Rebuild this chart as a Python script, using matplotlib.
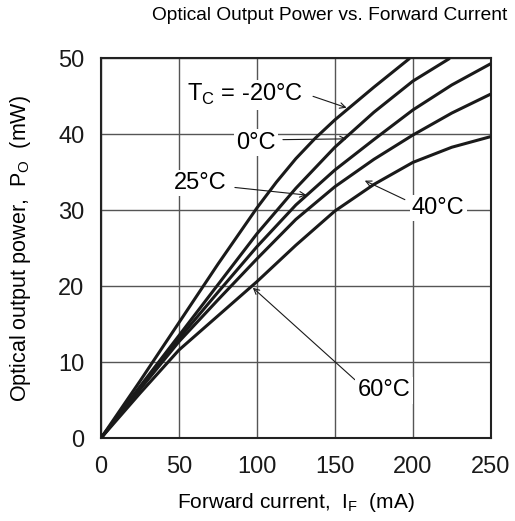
import matplotlib
matplotlib.use("Agg")
import matplotlib.pyplot as plt

plt.rcParams['font.family'] = ['Liberation Sans', 'DejaVu Sans']
plt.rcParams['mathtext.fontset'] = 'custom'
plt.rcParams['mathtext.rm'] = 'Liberation Sans'

# forward current (mA) and optical power (mW)
i_m20 = [0, 25, 50, 75, 100, 112.5, 125, 137.5, 150, 175, 198]
p_m20 = [0, 7.5, 15.2, 22.9, 30.3, 33.7, 36.8, 39.5, 41.9, 46.2, 50.0]

i_0 = [0, 25, 50, 75, 100, 125, 150, 175, 200, 223.7]
p_0 = [0, 6.8, 13.5, 20.2, 26.9, 32.9, 38.3, 42.9, 47.0, 50.0]

i_25 = [0, 25, 50, 75, 100, 125, 150, 175, 200, 225, 250]
p_25 = [0, 6.6, 13.1, 19.2, 25.2, 30.7, 35.3, 39.3, 43.2, 46.5, 49.3]

i_40 = [0, 25, 50, 75, 100, 125, 150, 175, 200, 225, 250]
p_40 = [0, 6.4, 12.7, 18.2, 23.6, 28.8, 33.1, 36.7, 39.9, 42.8, 45.3]

i_60 = [0, 25, 50, 75, 100, 125, 150, 175, 200, 225, 250]
p_60 = [0, 5.9, 11.6, 16.1, 20.6, 25.4, 29.9, 33.4, 36.3, 38.3, 39.7]

x_ticks = [0, 50, 100, 150, 200, 250]
y_ticks = [0, 10, 20, 30, 40, 50]

fig = plt.figure(figsize=(5.15, 5.21), dpi=100)
ax = fig.add_axes([0.196, 0.159, 0.757, 0.729])

for xs, ys in [(i_m20, p_m20), (i_0, p_0), (i_25, p_25), (i_40, p_40), (i_60, p_60)]:
    ax.plot(xs, ys, color='#1a1a1a', lw=2.2, zorder=3, solid_capstyle='butt')

ax.set_xlim(0, 250)
ax.set_ylim(0, 50)
ax.set_xticks(x_ticks)
ax.set_yticks(y_ticks)
ax.tick_params(length=0, labelsize=17, colors='#1a1a1a')
ax.tick_params(axis='y', pad=12)
ax.tick_params(axis='x', pad=13)
ax.grid(True, color='#555555', lw=1.0)
ax.set_axisbelow(True)
for s in ax.spines.values():
    s.set_linewidth(1.5)
    s.set_color('#222222')

ax.set_xlabel(r'Forward current,  I$_\mathregular{F}$  (mA)', fontsize=15, labelpad=9)
ax.set_ylabel(r'Optical output power,  P$_\mathregular{O}$  (mW)', fontsize=15.5, labelpad=18)
fig.text(0.64, 0.971, 'Optical Output Power vs. Forward Current', ha='center', va='center', fontsize=13.8)

arw = dict(arrowstyle='->', color='#1a1a1a', lw=0.8, shrinkA=0, shrinkB=0)
box = dict(boxstyle='square,pad=0.1', fc='white', ec='none')
notes = [
    (r'T$_\mathregular{C}$ = -20°C', (92.6, 45.2), (136, 45.0), (157.5, 43.5)),
    ('0°C', (99.4, 38.9), (116.7, 39.3), (157.5, 39.4)),
    ('25°C', (63.8, 33.6), (85.9, 33.0), (131.8, 32.0)),
    ('40°C', (216.3, 30.3), (194.9, 31.4), (169.2, 33.9)),
    ('60°C', (181.4, 6.3), (162.8, 7.7), (97.4, 19.8)),
]
for txt, pos, start, tip in notes:
    ax.annotate('', xy=tip, xytext=start, arrowprops=arw, zorder=4)
    ax.text(pos[0], pos[1], txt, ha='center', va='center', fontsize=17,
            bbox=box, zorder=5)

fig.savefig('out.png', dpi=100)
